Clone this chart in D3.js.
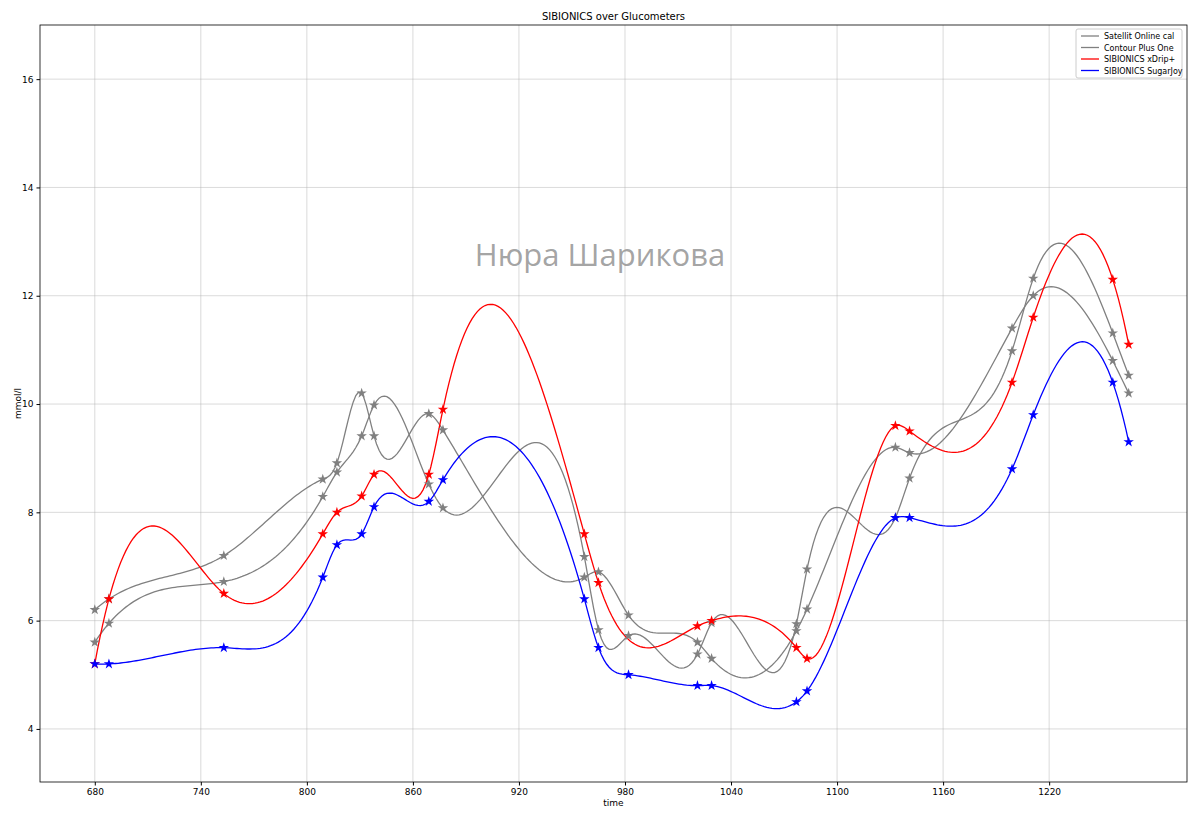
<!DOCTYPE html>
<html><head><meta charset="utf-8">
<script src="https://cdn.jsdelivr.net/npm/d3@7"></script>
<style>body{margin:0;background:#fff}</style></head>
<body><svg id="c" width="1200" height="819"></svg>
<script>
const satT=[680,688,753,809,817,831,838,869,877,957,965,982,1021,1029,1077,1083,1133,1141,1199,1211,1256,1265];
const satV=[6.2,6.4,7.2,8.61,8.91,10.2,9.41,9.82,9.52,6.8,6.9,6.1,5.6,5.3,5.81,6.21,9.2,9.1,11.4,12.0,10.8,10.2];
const conT=[680,688,753,809,817,831,838,869,877,957,965,982,1021,1029,1077,1083,1133,1141,1199,1211,1256,1265];
const conV=[5.6,5.95,6.72,8.29,8.74,9.41,9.98,8.52,8.08,7.18,5.83,5.72,5.38,5.96,5.94,6.95,7.9,8.63,10.98,12.32,11.31,10.53];
const xdT=[680,688,753,809,817,831,838,869,877,957,965,1021,1029,1077,1083,1133,1141,1199,1211,1256,1265];
const xdV=[5.2,6.4,6.5,7.6,8.0,8.3,8.7,8.7,9.9,7.6,6.7,5.9,6.0,5.5,5.3,9.6,9.5,10.4,11.6,12.3,11.1];
const sjT=[680,688,753,809,817,831,838,869,877,957,965,982,1021,1029,1077,1083,1133,1141,1199,1211,1256,1265];
const sjV=[5.2,5.2,5.5,6.8,7.4,7.6,8.1,8.2,8.6,6.4,5.5,5.0,4.8,4.8,4.5,4.7,7.9,7.9,8.8,9.8,10.4,9.3];
const xTicks=[680,740,800,860,920,980,1040,1100,1160,1220];
const yTicks=[4,6,8,10,12,14,16];
const series=[
 {name:"Satellit Online cal",t:satT,v:satV,color:"#808080"},
 {name:"Contour Plus One",t:conT,v:conV,color:"#808080"},
 {name:"SIBIONICS xDrip+",t:xdT,v:xdV,color:"#ff0000"},
 {name:"SIBIONICS SugarJoy",t:sjT,v:sjV,color:"#0000ff"}];

function spline(x,y){
  const n=x.length,h=[];for(let i=0;i<n-1;i++)h.push(x[i+1]-x[i]);
  const A=Array.from({length:n},()=>new Array(n).fill(0)),b=new Array(n).fill(0);
  for(let i=1;i<n-1;i++){A[i][i-1]=h[i-1];A[i][i]=2*(h[i-1]+h[i]);A[i][i+1]=h[i];
    b[i]=6*((y[i+1]-y[i])/h[i]-(y[i]-y[i-1])/h[i-1]);}
  A[0][0]=h[1];A[0][1]=-(h[0]+h[1]);A[0][2]=h[0];
  A[n-1][n-3]=h[n-2];A[n-1][n-2]=-(h[n-3]+h[n-2]);A[n-1][n-1]=h[n-3];
  for(let c=0;c<n;c++){let p=c;for(let r=c+1;r<n;r++)if(Math.abs(A[r][c])>Math.abs(A[p][c]))p=r;
    [A[c],A[p]]=[A[p],A[c]];[b[c],b[p]]=[b[p],b[c]];
    for(let r=c+1;r<n;r++){const f=A[r][c]/A[c][c];if(!f)continue;for(let k=c;k<n;k++)A[r][k]-=f*A[c][k];b[r]-=f*b[c];}}
  const M=new Array(n);for(let r=n-1;r>=0;r--){let s=b[r];for(let k=r+1;k<n;k++)s-=A[r][k]*M[k];M[r]=s/A[r][r];}
  return t=>{let i=0;while(i<n-2&&t>x[i+1])i++;const a=x[i+1]-t,bb=t-x[i],hh=h[i];
    return M[i]*a*a*a/(6*hh)+M[i+1]*bb*bb*bb/(6*hh)+(y[i]/hh-M[i]*hh/6)*a+(y[i+1]/hh-M[i+1]*hh/6)*bb;};
}

const svg=d3.select("#c");
const L=40,R=1187,T=25,B=782;
const x=d3.scaleLinear().domain([649,1298]).range([L,R]);
const y=d3.scaleLinear().domain([3.02,17]).range([B,T]);
const g=svg.append("g");
g.selectAll(".gx").data(xTicks).enter().append("line").attr("x1",d=>x(d)).attr("x2",d=>x(d)).attr("y1",T).attr("y2",B).attr("stroke","#b0b0b0").attr("stroke-opacity",0.6).attr("stroke-width",0.8);
g.selectAll(".gy").data(yTicks).enter().append("line").attr("y1",d=>y(d)).attr("y2",d=>y(d)).attr("x1",L).attr("x2",R).attr("stroke","#b0b0b0").attr("stroke-opacity",0.6).attr("stroke-width",0.8);
const xa=svg.append("g").attr("transform",`translate(0,${B})`).call(d3.axisBottom(x).tickValues(xTicks).tickSize(3.5).tickPadding(3).tickFormat(d3.format("d")));
const ya=svg.append("g").attr("transform",`translate(${L},0)`).call(d3.axisLeft(y).tickValues(yTicks).tickSize(3.5).tickPadding(3).tickFormat(d3.format("d")));
[xa,ya].forEach(a=>{a.select(".domain").remove();a.selectAll("text").attr("font-family","DejaVu Sans").attr("font-size",9).attr("fill","#000");});
svg.append("rect").attr("x",L).attr("y",T).attr("width",R-L).attr("height",B-T).attr("fill","none").attr("stroke","#000").attr("stroke-width",0.8);

svg.append("text").attr("x",600).attr("y",266).attr("text-anchor","middle").attr("font-family","Open Sans").attr("font-size",31).attr("fill","#8c8c8c").attr("fill-opacity",0.8).text("Нюра Шарикова");

const line=d3.line().x(d=>x(d[0])).y(d=>y(d[1]));
series.forEach(s=>{
  const f=spline(s.t,s.v),t0=s.t[0],t1=s.t[s.t.length-1],pts=[];
  for(let i=0;i<=400;i++){const t=t0+(t1-t0)*i/400;pts.push([t,f(t)]);}
  svg.append("path").attr("d",line(pts)).attr("fill","none").attr("stroke",s.color).attr("stroke-width",1.3);
});
series.forEach(s=>{
  svg.selectAll(null).data(s.t.map((t,i)=>[t,s.v[i]])).enter().append("path")
   .attr("d",d3.symbol(d3.symbolStar,34)).attr("transform",d=>`translate(${x(d[0])},${y(d[1])})`).attr("fill",s.color);
});

svg.append("text").attr("x",(L+R)/2).attr("y",20).attr("text-anchor","middle").attr("font-family","DejaVu Sans").attr("font-size",10).text("SIBIONICS over Glucometers");
svg.append("text").attr("x",(L+R)/2).attr("y",806).attr("text-anchor","middle").attr("font-family","DejaVu Sans").attr("font-size",9).text("time");
svg.append("text").attr("transform",`translate(21,${(T+B)/2}) rotate(-90)`).attr("text-anchor","middle").attr("font-family","DejaVu Sans").attr("font-size",9).text("mmol/l");

const lg=svg.append("g").attr("transform","translate(1076,29)");
lg.append("rect").attr("width",106).attr("height",49).attr("rx",2).attr("fill","#fff").attr("fill-opacity",0.8).attr("stroke","#ccc");
series.forEach((s,i)=>{
  lg.append("line").attr("x1",5).attr("x2",23).attr("y1",7+i*11.5).attr("y2",7+i*11.5).attr("stroke",s.color).attr("stroke-width",1.3);
  lg.append("text").attr("x",28).attr("y",10+i*11.5).attr("font-family","DejaVu Sans").attr("font-size",8).text(s.name);
});
</script></body></html>
